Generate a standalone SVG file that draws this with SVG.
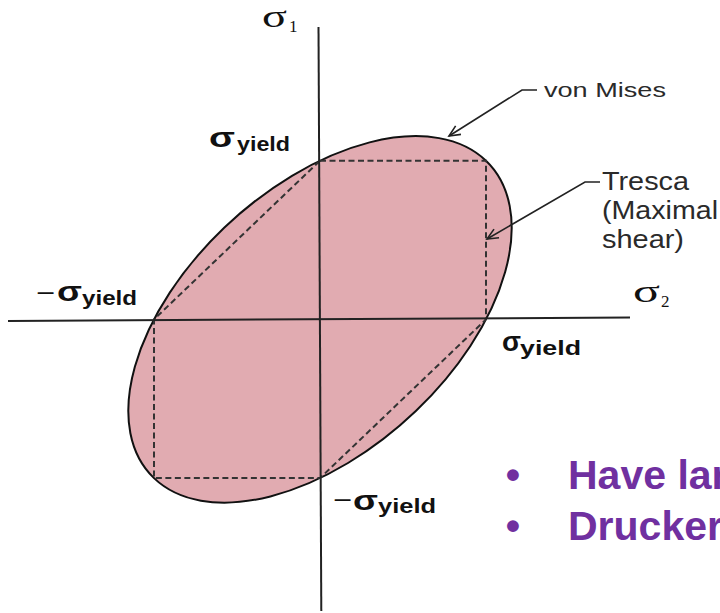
<svg xmlns="http://www.w3.org/2000/svg" width="720" height="613" viewBox="0 0 720 613">
<defs>
<style>
.ax{stroke:#222;stroke-width:2;fill:none}
.tr{stroke:#333;stroke-width:2;fill:none;stroke-dasharray:6 3.5}
.ld{stroke:#222;stroke-width:1.6;fill:none}
.sb{font-family:"Liberation Sans",Arial,sans-serif;font-weight:bold;fill:#111}
.ss{font-family:"Liberation Serif","Times New Roman",serif;fill:#111}
.mn{font-family:"Liberation Sans",Arial,sans-serif;fill:#111;font-size:24px}
.lb{font-family:"Liberation Sans",Arial,sans-serif;fill:#2a2a2a}
.bl{font-family:"Liberation Sans",Arial,sans-serif;font-weight:bold;fill:#7030A0;font-size:41px}
</style>
<marker id="ah" markerWidth="14" markerHeight="14" refX="12" refY="6" orient="auto" markerUnits="userSpaceOnUse">
<path d="M1,1 L12,6 L1,11" stroke="#222" stroke-width="1.6" fill="none"/>
</marker>
</defs>
<rect width="720" height="613" fill="#fff"/>
<g id="vonMises">
<ellipse cx="0" cy="0" rx="1" ry="1" transform="matrix(166 -158.7 -95.84 -91.63 320 319.4)" fill="#E1ABB1" stroke="#111" stroke-width="2" vector-effect="non-scaling-stroke"/>
</g>
<g id="tresca">
<path class="tr" d="M320,160.7 H486 V319.4 L320,478.1 H154 V319.4 Z"/>
</g>
<g id="axes">
<line class="ax" x1="318.5" y1="27" x2="321.3" y2="611"/>
<line class="ax" x1="8" y1="321" x2="630" y2="317.5"/>
</g>
<g id="connectors">
<polyline class="ld" points="537,90 522,90 449,136" marker-end="url(#ah)"/>
<polyline class="ld" points="600,182 585,182 487,239" marker-end="url(#ah)"/>
</g>
<g id="label-sigma1">
<text class="ss" x="262" y="27" font-size="32" textLength="25" lengthAdjust="spacingAndGlyphs">σ</text>
<text class="ss" x="289" y="32" font-size="17">1</text>
</g>
<g id="label-sigma2">
<text class="ss" x="633" y="302" font-size="32" textLength="27" lengthAdjust="spacingAndGlyphs">σ</text>
<text class="ss" x="661" y="307" font-size="17">2</text>
</g>
<g id="label-yield-top">
<text class="sb" x="209" y="147" font-size="27" textLength="26" lengthAdjust="spacingAndGlyphs">σ</text>
<text class="sb" x="237" y="151" font-size="21" textLength="53" lengthAdjust="spacingAndGlyphs">yield</text>
</g>
<g id="label-yield-left">
<text class="mn" x="36" y="300.5" textLength="19" lengthAdjust="spacingAndGlyphs">−</text>
<text class="sb" x="57" y="301" font-size="27" textLength="25" lengthAdjust="spacingAndGlyphs">σ</text>
<text class="sb" x="82" y="305" font-size="21" textLength="55" lengthAdjust="spacingAndGlyphs">yield</text>
</g>
<g id="label-yield-right">
<text class="sb" x="502" y="351" font-size="27" textLength="19" lengthAdjust="spacingAndGlyphs">σ</text>
<text class="sb" x="520" y="355" font-size="21" textLength="61" lengthAdjust="spacingAndGlyphs">yield</text>
</g>
<g id="label-yield-bottom">
<text class="mn" x="333" y="507.5" textLength="19" lengthAdjust="spacingAndGlyphs">−</text>
<text class="sb" x="353" y="510" font-size="27" textLength="25" lengthAdjust="spacingAndGlyphs">σ</text>
<text class="sb" x="378" y="513" font-size="21" textLength="58" lengthAdjust="spacingAndGlyphs">yield</text>
</g>
<g id="label-vonmises">
<text class="lb" x="544" y="97" font-size="20.5" textLength="122" lengthAdjust="spacingAndGlyphs">von Mises</text>
</g>
<g id="label-tresca">
<text class="lb" x="602" y="190" font-size="25.5" textLength="87" lengthAdjust="spacingAndGlyphs">Tresca</text>
<text class="lb" x="602" y="219" font-size="25.5" textLength="116" lengthAdjust="spacingAndGlyphs">(Maximal</text>
<text class="lb" x="602" y="248" font-size="25.5" textLength="82" lengthAdjust="spacingAndGlyphs">shear)</text>
</g>
<g id="bullets">
<text class="bl" x="513" y="489" text-anchor="middle">•</text>
<text class="bl" x="568" y="489">Have lar</text>
<text class="bl" x="513" y="540" text-anchor="middle">•</text>
<text class="bl" x="568" y="540">Drucker</text>
</g>
</svg>
